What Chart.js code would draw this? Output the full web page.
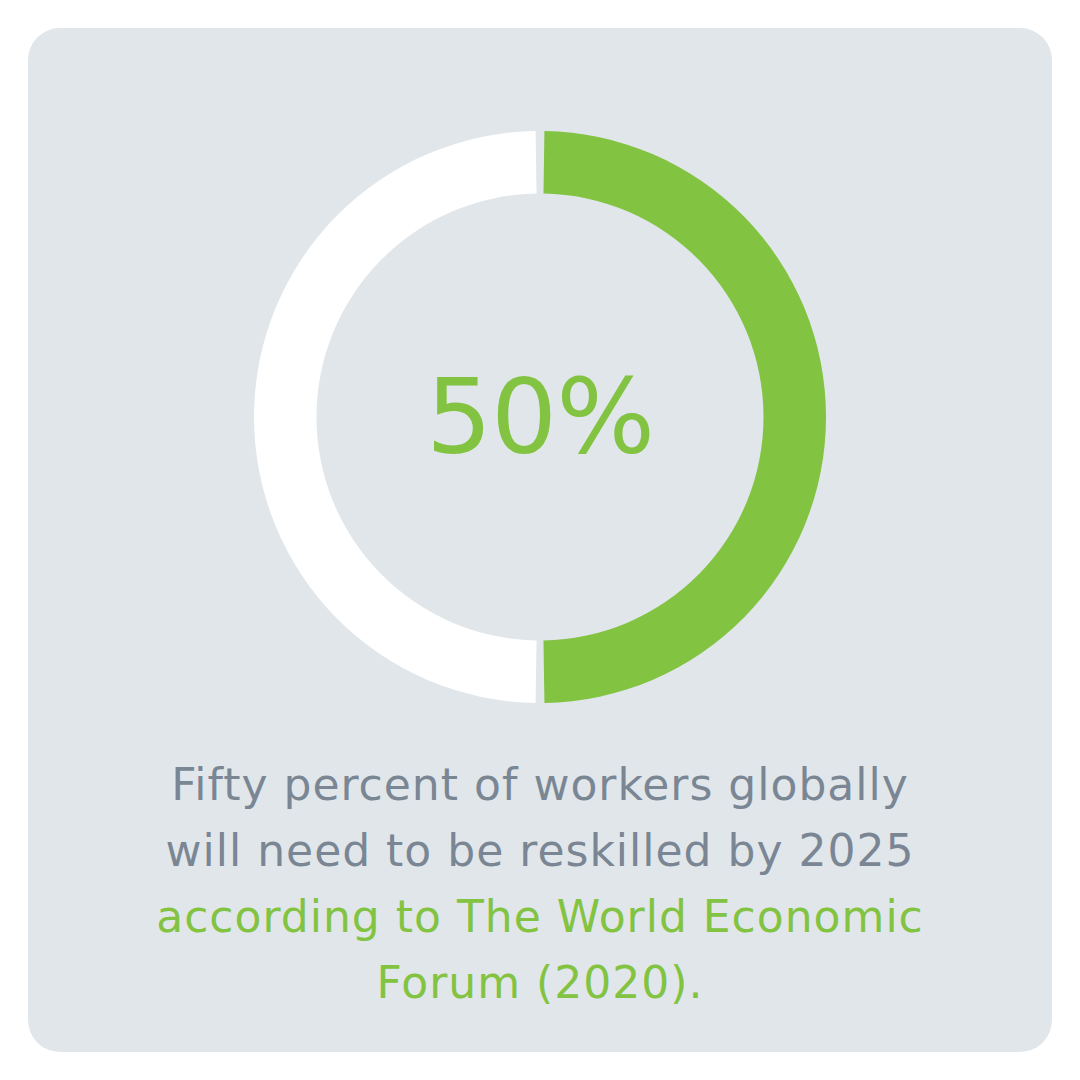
<!DOCTYPE html>
<html><head><meta charset="utf-8">
<script src="https://cdn.jsdelivr.net/npm/chart.js@4"></script>
<style>
html,body{margin:0;padding:0;background:#fff;width:1080px;height:1080px;overflow:hidden}
#card{position:absolute;left:28px;top:28px;width:1024px;height:1024px;border-radius:32px;background:#e1e6ea}
#wrap{position:absolute;left:254px;top:131px;width:572px;height:572px}
#center{position:absolute;left:240px;top:347px;width:600px;text-align:center;font-family:"DejaVu Sans",sans-serif;font-size:104px;line-height:140px;color:#82c341;letter-spacing:-1px}
#caption{position:absolute;left:40px;top:752px;width:1000px;text-align:center;font-family:"DejaVu Sans",sans-serif;font-size:44px;line-height:66px;color:#7a8694;letter-spacing:1px}
.g{color:#82c341}
</style></head>
<body>
<div id="card"></div>
<div id="wrap"><canvas id="c" width="572" height="572"></canvas></div>
<div id="center"></div>
<div id="caption"></div>
<script>
const categories = ["Workers needing reskilling", "Others"];
const values = [50, 50];
const colors = ["#82c341", "#ffffff"];
const centerLabel = "50%";
const captionGrey = ["Fifty percent of workers globally", "will need to be reskilled by 2025"];
const captionGreen = ["according to The World Economic", "Forum (2020)."];

document.getElementById('center').textContent = centerLabel;
const cap = document.getElementById('caption');
captionGrey.forEach(t => { const d = document.createElement('div'); d.textContent = t; cap.appendChild(d); });
captionGreen.forEach(t => { const d = document.createElement('div'); d.textContent = t; d.className = 'g'; cap.appendChild(d); });

new Chart(document.getElementById('c'), {
  type: 'doughnut',
  data: { labels: categories, datasets: [{ data: values, backgroundColor: colors, borderWidth: 0, spacing: 5, hoverOffset: 0 }] },
  options: {
    responsive: false, animation: false, cutout: 221,
    layout: { padding: 0 },
    plugins: { legend: { display: false }, tooltip: { enabled: false } }
  }
});
</script>
</body></html>
